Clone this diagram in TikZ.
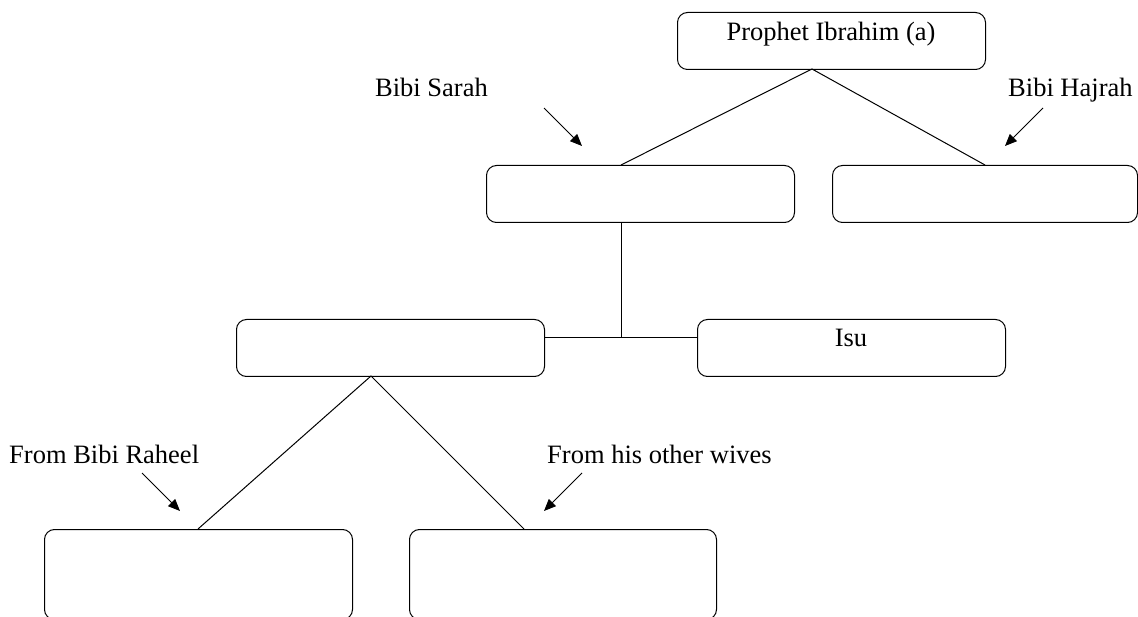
\documentclass[tikz,border=0pt]{standalone}
\usepackage{fontspec}
\setmainfont{Liberation Serif}
\usetikzlibrary{arrows.meta}
\begin{document}
\begin{tikzpicture}[x=1pt,y=-1pt,
  box/.style={draw=black, line width=1pt, rounded corners=10pt, anchor=north west, minimum width=308pt, minimum height=57pt, inner sep=0pt},
  lbl/.style={anchor=base west, inner sep=0pt, font=\fontsize{26.5}{30}\selectfont},
  ttl/.style={anchor=base, inner sep=0pt, font=\fontsize{26.5}{30}\selectfont},
  conn/.style={draw=black, line width=1pt},
  pointer/.style={draw=black, line width=0.8pt, -{Triangle[length=12pt,width=10pt]}}]
\clip (0,0) rectangle (1138,617);
\fill[white] (0,0) rectangle (1138,617);
% boxes
\node[box] (ibrahim) at (677,12) {};
\node[box] (sarah) at (486,165) {};
\node[box, minimum width=305pt] (hajrah) at (832,165) {};
\node[box] (mid) at (236,319) {};
\node[box] (isu) at (697,319) {};
\node[box, minimum height=90pt] (raheel) at (44,529) {};
\node[box, minimum width=307pt, minimum height=90pt] (other) at (409,529) {};
% box texts
\node[ttl] (ibrahimtxt) at (831,41) {Prophet Ibrahim (a)};
\node[ttl] (isutxt) at (851,347) {Isu};
% junction coordinates
\coordinate (apexT) at (812,69);
\coordinate (sarahTop) at (621,165);
\coordinate (hajrahTop) at (985,165);
\coordinate (sarahBot) at (621,223);
\coordinate (junc) at (621,338);
\coordinate (midR) at (544,338);
\coordinate (isuL) at (697,338);
\coordinate (apexM) at (371,376);
\coordinate (raheelTop) at (198,529);
\coordinate (otherTop) at (524,529);
% connectors
\draw[conn] (sarahTop) -- (apexT) -- (hajrahTop);
\draw[conn] (sarahBot) -- (junc);
\draw[conn] (midR) -- (isuL);
\draw[conn] (raheelTop) -- (apexM) -- (otherTop);
% labels
\node[lbl] (lsarah) at (375,97) {Bibi Sarah};
\node[lbl] (lhajrah) at (1008,97) {Bibi Hajrah};
\node[lbl] (lraheel) at (9,463) {From Bibi Raheel};
\node[lbl] (lother) at (547,463) {From his other wives};
% pointer arrows
\coordinate (ps1) at (544,108); \coordinate (pe1) at (582,146);
\coordinate (ps2) at (1043,108); \coordinate (pe2) at (1005,146);
\coordinate (ps3) at (142,473); \coordinate (pe3) at (180,511);
\coordinate (ps4) at (582,473); \coordinate (pe4) at (544,511);
\draw[pointer] (ps1) -- (pe1);
\draw[pointer] (ps2) -- (pe2);
\draw[pointer] (ps3) -- (pe3);
\draw[pointer] (ps4) -- (pe4);
\end{tikzpicture}
\end{document}
